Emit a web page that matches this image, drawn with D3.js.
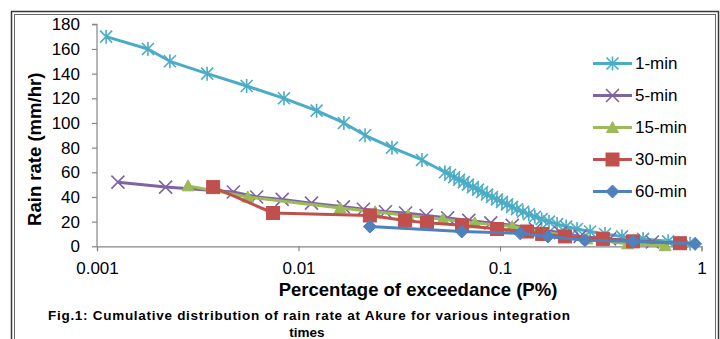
<!DOCTYPE html>
<html>
<head>
<meta charset="utf-8">
<script src="https://cdn.jsdelivr.net/npm/d3@7"></script>
<style>
  body { margin: 0; background: #fff; }
  svg { display: block; font-family: "Liberation Sans", Arial, sans-serif; }
  .tick text { font-size: 17px; fill: #000; }
  .axis-title { font-size: 18.5px; font-weight: bold; }
  .legend text { font-size: 17px; }
  .caption { font-size: 13.5px; font-weight: bold; }
</style>
</head>
<body>
<div id="chart"></div>
<script>
// Data
const seriesNames = ['1-min', '5-min', '15-min', '30-min', '60-min'];

const p1 = [0.00111, 0.00179, 0.0023, 0.00352, 0.00553, 0.00847, 0.0123, 0.0168, 0.0214, 0.0291, 0.041,
  0.0533, 0.0565, 0.0592, 0.0627, 0.0662, 0.0693, 0.0734, 0.0778, 0.0815, 0.0861, 0.0912, 0.0966,
  0.1023, 0.1084, 0.1148, 0.1213, 0.130, 0.139, 0.149, 0.161, 0.175, 0.192, 0.213, 0.241, 0.280,
  0.332, 0.403, 0.513, 0.683, 0.877];
const r1 = [170, 160, 150, 140, 130, 120, 110, 100, 90, 80, 70,
  60, 58, 56, 54, 52, 50, 48, 46, 44, 42, 40, 38,
  36, 34, 32, 30, 28, 26, 24, 22, 20, 18, 16, 14, 12,
  10, 8, 6, 4, 2];

const p5 = [0.00127, 0.00219, 0.00475, 0.0062, 0.0083, 0.0116, 0.0167, 0.021, 0.027, 0.034, 0.043,
  0.055, 0.07, 0.09, 0.115, 0.15, 0.2, 0.25, 0.35, 0.57];
const r5 = [52, 48, 44, 40, 38, 35, 32, 30, 28, 27, 25, 23, 21, 19, 17, 14, 11, 8, 6, 3.5];

const p15 = [0.00283, 0.0056, 0.0161, 0.024, 0.035, 0.052, 0.075, 0.115, 0.16, 0.27, 0.43, 0.66];
const r15 = [49, 40, 31, 28, 25, 22, 19, 16, 12, 6, 2, 0.5];

const p30 = [0.00377, 0.00747, 0.0226, 0.0338, 0.0434, 0.0648, 0.0967, 0.136, 0.162, 0.21, 0.324, 0.457, 0.782];
const r30 = [48, 27, 25, 21, 19, 17, 14, 12, 10, 8, 6, 4, 2.5];

const p60 = [0.0226, 0.0646, 0.126, 0.173, 0.264, 0.457, 0.929];
const r60 = [16, 12, 10.5, 8, 5, 4, 2];

const xTicks = [0.001, 0.01, 0.1, 1];
const xTickLabels = ['0.001', '0.01', '0.1', '1'];
const yTicks = [0, 20, 40, 60, 80, 100, 120, 140, 160, 180];

const width = 720;
const height = 339;
const colours = ['#4BACC6', '#8064A2', '#9BBB59', '#C0504D', '#4F81BD'];
const markers = ['star', 'x', 'triangle', 'square', 'diamond'];

const series = [[p1, r1], [p5, r5], [p15, r15], [p30, r30], [p60, r60]].map((s, i) => ({
  name: seriesNames[i],
  colour: colours[i],
  marker: markers[i],
  values: s[0].map((p, j) => ({ p: p, r: s[1][j] }))
}));

const svg = d3.select('#chart').append('svg')
    .attr('width', width)
    .attr('height', height);

// double frame
svg.append('rect')
    .attr('x', 11.5).attr('y', 11.5).attr('width', 707).attr('height', 400)
    .attr('fill', 'none').attr('stroke', '#3a3a3a').attr('stroke-width', 1.5);
svg.append('rect')
    .attr('x', 14.5).attr('y', 14.5).attr('width', 701).attr('height', 400)
    .attr('fill', 'none').attr('stroke', '#6a6a6a').attr('stroke-width', 1);

const x = d3.scaleLog()
    .domain([0.001, 1])
    .range([97, 701.5]);

const y = d3.scaleLinear()
    .domain([0, 180])
    .range([246.3, 24.3]);

// axes
const yAxis = d3.axisLeft(y)
    .tickValues(yTicks)
    .tickSize(5)
    .tickPadding(12)
    .tickFormat(d3.format('d'));

const xAxis = d3.axisBottom(x)
    .tickValues(xTicks)
    .tickSize(5)
    .tickPadding(11)
    .tickFormat((d, i) => xTickLabels[i]);

const gy = svg.append('g')
    .attr('class', 'axis yAxis')
    .attr('transform', `translate(${x(0.001)},0)`)
    .call(yAxis);

const gx = svg.append('g')
    .attr('class', 'axis xAxis')
    .attr('transform', `translate(0,${y(0)})`)
    .call(xAxis);

svg.selectAll('.axis .domain').attr('stroke', '#868686').attr('stroke-width', 1.2);
svg.selectAll('.axis .tick line').attr('stroke', '#868686').attr('stroke-width', 1.2);
gy.select('.domain').attr('d', `M-5,${y(180)}H0V${y(0)}`);

// axis titles
svg.append('text')
    .attr('class', 'axis-title')
    .attr('transform', `translate(41,${(y(0) + y(180)) / 2 + 14}) rotate(-90)`)
    .attr('text-anchor', 'middle')
    .text('Rain rate (mm/hr)');

svg.append('text')
    .attr('class', 'axis-title')
    .attr('x', 418)
    .attr('y', 296)
    .attr('text-anchor', 'middle')
    .text('Percentage of exceedance (P%)');

// markers
function drawMarker(g, type, colour) {
  if (type === 'star') {
    g.append('path')
        .attr('d', 'M-6,-6L6,6M-6,6L6,-6M0,-7V7')
        .attr('stroke', colour).attr('stroke-width', 1.6).attr('fill', 'none');
  } else if (type === 'x') {
    g.append('path')
        .attr('d', 'M-6.5,-6.5L6.5,6.5M-6.5,6.5L6.5,-6.5')
        .attr('stroke', colour).attr('stroke-width', 1.6).attr('fill', 'none');
  } else if (type === 'triangle') {
    g.append('path')
        .attr('d', 'M0,-6L6,5L-6,5Z')
        .attr('fill', colour).attr('stroke', colour).attr('stroke-width', 1);
  } else if (type === 'square') {
    g.append('rect')
        .attr('x', -6.5).attr('y', -6.5).attr('width', 13).attr('height', 13)
        .attr('fill', colour).attr('stroke', colour).attr('stroke-width', 1);
  } else if (type === 'diamond') {
    g.append('path')
        .attr('d', 'M0,-6.5L6.5,0L0,6.5L-6.5,0Z')
        .attr('fill', colour).attr('stroke', colour).attr('stroke-width', 1);
  }
}

const line = d3.line()
    .x(d => x(d.p))
    .y(d => y(d.r));

series.forEach(s => {
  const g = svg.append('g').attr('class', 'series');
  g.append('path')
      .datum(s.values)
      .attr('d', line)
      .attr('fill', 'none')
      .attr('stroke', s.colour)
      .attr('stroke-width', 3)
      .attr('stroke-linejoin', 'round');
  g.selectAll('g.mark')
      .data(s.values)
      .enter()
      .append('g')
      .attr('class', 'mark')
      .attr('transform', d => `translate(${x(d.p)},${y(d.r)})`)
      .each(function() { drawMarker(d3.select(this), s.marker, s.colour); });
});

// legend
const legend = svg.append('g').attr('class', 'legend');
series.forEach((s, i) => {
  const ly = 63.5 + i * 32;
  const g = legend.append('g').attr('transform', `translate(0,${ly})`);
  g.append('line')
      .attr('x1', 593).attr('x2', 632)
      .attr('stroke', s.colour).attr('stroke-width', 3);
  const m = g.append('g').attr('transform', 'translate(612.5,0)');
  drawMarker(m, s.marker, s.colour);
  g.append('text')
      .attr('x', 635)
      .attr('dy', '0.35em')
      .text(s.name);
});

// caption
svg.append('text')
    .attr('class', 'caption')
    .attr('x', 48)
    .attr('y', 320)
    .attr('textLength', 522)
    .attr('lengthAdjust', 'spacing')
    .text('Fig.1: Cumulative distribution of rain rate at Akure for various integration');

svg.append('text')
    .attr('class', 'caption')
    .attr('x', 307)
    .attr('y', 337)
    .attr('text-anchor', 'middle')
    .text('times');
</script>
</body>
</html>
